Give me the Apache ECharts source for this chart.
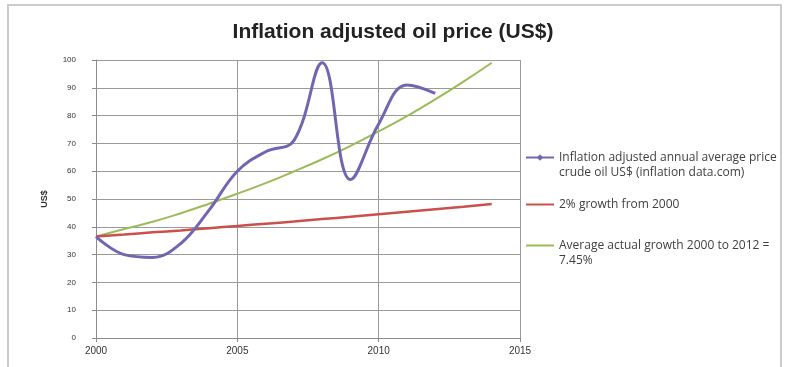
<!DOCTYPE html>
<html>
<head>
<meta charset="utf-8">
<script src="https://cdn.jsdelivr.net/npm/echarts@6/dist/echarts.min.js"></script>
<style>
  html, body { margin: 0; padding: 0; background: #fff; }
  #chart { width: 786px; height: 367px; }
</style>
</head>
<body>
<div id="chart"></div>
<script>
// Years on the horizontal axis
const priceYears = [2000, 2001, 2002, 2003, 2004, 2005, 2006, 2007, 2008, 2009, 2010, 2011, 2012];
const trendYears = [2000, 2001, 2002, 2003, 2004, 2005, 2006, 2007, 2008, 2009, 2010, 2011, 2012, 2013, 2014];

// Inflation adjusted annual average crude oil price, US$
const oilPrice = [36.5, 30, 29, 34, 46, 60, 67, 71, 99, 57, 77, 91, 88];
// 2% growth from 2000
const growth2pct = [36.5, 37.2, 38.0, 38.7, 39.5, 40.3, 41.1, 41.9, 42.8, 43.6, 44.5, 45.4, 46.3, 47.2, 48.2];
// Average actual growth 2000 to 2012 = 7.45%
const growthAvg = [36.5, 39.2, 41.8, 44.9, 48.3, 51.9, 55.7, 59.9, 64.3, 69.1, 74.3, 79.8, 85.8, 92.2, 99.0];

const seriesNames = [
  'Inflation adjusted annual average price crude oil US$ (inflation data.com)',
  '2% growth from 2000',
  'Average actual growth 2000 to 2012 = 7.45%'
];
const legendLabels = [
  '\nInflation adjusted annual average price\ncrude oil US$ (inflation data.com)',
  '2% growth from 2000',
  '\nAverage actual growth 2000 to 2012 =\n7.45%'
];

const yTicks = { min: 0, max: 100, interval: 10 };
const xTicks = { min: 2000, max: 2015, interval: 5 };

const pairs = (xs, ys) => ys.map((v, i) => [xs[i], v]);

const fontFamily = '"Liberation Sans", Arial, sans-serif';
const legendText = { fontFamily: '"Open Sans", sans-serif', fontSize: 12, color: '#404040', lineHeight: 15 };

function legendFor(idx, top, showMarker) {
  return {
    data: [seriesNames[idx]],
    left: 525,
    top: top,
    padding: 0,
    orient: 'vertical',
    itemWidth: 28,
    itemHeight: 8,
    selectedMode: false,
    itemStyle: showMarker ? {} : { opacity: 0 },
    formatter: () => legendLabels[idx],
    textStyle: legendText
  };
}

const chart = echarts.init(document.getElementById('chart'), null, { renderer: 'canvas' });

chart.setOption({
  animation: false,
  backgroundColor: '#fff',
  title: {
    text: 'Inflation adjusted oil price (US$)',
    left: 'center',
    top: 17,
    textStyle: { fontFamily: fontFamily, fontSize: 21, fontWeight: 'bold', color: '#222' }
  },
  graphic: [{
    type: 'rect',
    shape: { x: 8, y: 5, width: 773, height: 400 },
    style: { fill: 'none', stroke: '#cccccc', lineWidth: 2 },
    silent: true,
    z: -1
  }],
  grid: { left: 96, right: 266, top: 60, bottom: 29 },
  legend: [
    legendFor(0, 135, true),
    legendFor(1, 197, false),
    legendFor(2, 223, false)
  ],
  xAxis: {
    type: 'value',
    min: xTicks.min,
    max: xTicks.max,
    interval: xTicks.interval,
    axisLine: { lineStyle: { color: '#8c8c8c', width: 1 } },
    axisTick: { show: true, length: 4, lineStyle: { color: '#8c8c8c' } },
    axisLabel: { fontFamily: fontFamily, fontSize: 10, color: '#333', margin: 8, formatter: v => String(v) },
    splitLine: { show: true, lineStyle: { color: '#9a9a9a', width: 1 } }
  },
  yAxis: {
    type: 'value',
    min: yTicks.min,
    max: yTicks.max,
    interval: yTicks.interval,
    name: 'US$',
    nameLocation: 'middle',
    nameRotate: 90,
    nameGap: 47,
    nameTextStyle: { fontFamily: fontFamily, fontSize: 9, color: '#333', fontWeight: 'bold' },
    axisLine: { show: true, lineStyle: { color: '#8c8c8c', width: 1 } },
    axisTick: { show: true, length: 4, lineStyle: { color: '#8c8c8c' } },
    axisLabel: { fontFamily: fontFamily, fontSize: 8, color: '#333', margin: 20 },
    splitLine: { show: true, lineStyle: { color: '#9a9a9a', width: 1 } }
  },
  series: [
    {
      name: seriesNames[0],
      type: 'line',
      data: pairs(priceYears, oilPrice),
      smooth: 0.4,
      symbol: 'diamond',
      symbolSize: 6,
      showSymbol: false,
      lineStyle: { color: '#7266b0', width: 3 },
      itemStyle: { color: '#7266b0' },
      z: 4
    },
    {
      name: seriesNames[1],
      type: 'line',
      data: pairs(trendYears, growth2pct),
      smooth: true,
      symbol: 'none',
      lineStyle: { color: '#c9504d', width: 2.5 },
      itemStyle: { color: '#c9504d' },
      z: 3
    },
    {
      name: seriesNames[2],
      type: 'line',
      data: pairs(trendYears, growthAvg),
      smooth: true,
      symbol: 'none',
      lineStyle: { color: '#9bbb59', width: 2 },
      itemStyle: { color: '#9bbb59' },
      z: 2
    }
  ]
});
</script>
</body>
</html>
